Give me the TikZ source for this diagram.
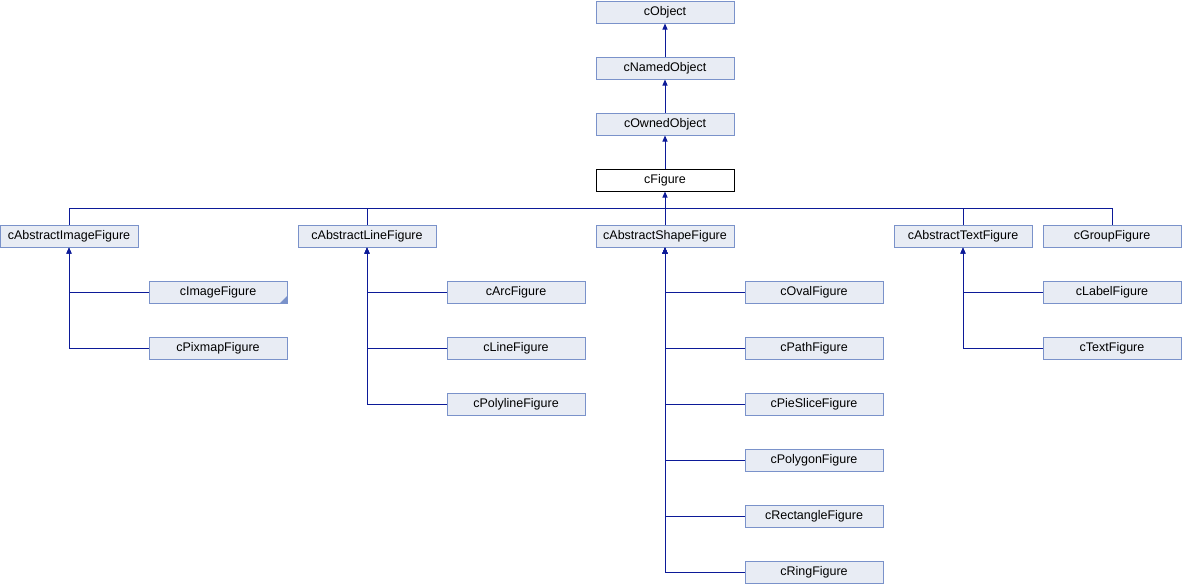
\documentclass[tikz,border=0pt]{standalone}
\usepackage{fontspec}
\setmainfont{Liberation Sans}
\usetikzlibrary{arrows.meta}
\definecolor{boxfill}{HTML}{E8ECF4}
\definecolor{boxline}{HTML}{7A92CA}
\definecolor{edgecol}{HTML}{0C1A98}
\tikzset{
  cls/.style={draw=boxline, fill=boxfill, line width=1pt, minimum width=138pt,
    minimum height=22pt, inner sep=0pt, font=\fontsize{12.5}{14}\selectfont},
  curcls/.style={cls, draw=black, fill=white},
  inh/.style={draw=edgecol, line width=1pt, -{Triangle[length=6pt,width=5pt]}},
  link/.style={draw=edgecol, line width=1pt}
}
\begin{document}
\begin{tikzpicture}[x=1pt,y=-1pt]
\useasboundingbox (0,0) rectangle (1182,584);
% base chain
\node[cls] (obj) at (665,12) {cObject};
\node[cls] (named) at (665,68) {cNamedObject};
\node[cls] (owned) at (665,124) {cOwnedObject};
\node[curcls] (fig) at (665,180) {cFigure};
% direct subclasses
\node[cls] (aimg) at (69,236) {cAbstractImageFigure};
\node[cls] (aline) at (367,236) {cAbstractLineFigure};
\node[cls] (ashape) at (665,236) {cAbstractShapeFigure};
\node[cls] (atext) at (963,236) {cAbstractTextFigure};
\node[cls] (group) at (1112,236) {cGroupFigure};
% image figures
\node[cls] (img) at (218,292) {cImageFigure};
\node[cls] (pix) at (218,348) {cPixmapFigure};
\fill[boxline] (img.south east) ++(-0.5,-0.5) -- ++(0,-7) -- ++(-7,7) -- cycle;
% line figures
\node[cls] (arc) at (516,292) {cArcFigure};
\node[cls] (line) at (516,348) {cLineFigure};
\node[cls] (poly) at (516,404) {cPolylineFigure};
% shape figures
\node[cls] (oval) at (814,292) {cOvalFigure};
\node[cls] (path) at (814,348) {cPathFigure};
\node[cls] (pie) at (814,404) {cPieSliceFigure};
\node[cls] (polygon) at (814,460) {cPolygonFigure};
\node[cls] (rect) at (814,516) {cRectangleFigure};
\node[cls] (ring) at (814,572) {cRingFigure};
% text figures
\node[cls] (label) at (1112,292) {cLabelFigure};
\node[cls] (text) at (1112,348) {cTextFigure};
% inheritance edges
\draw[inh] (named.north) -- (obj.south);
\draw[inh] (owned.north) -- (named.south);
\draw[inh] (fig.north) -- (owned.south);
\coordinate (bus) at (665,208);
\draw[inh] (bus) -- (fig.south);
\foreach \c in {aimg,aline,ashape,atext,group}
  \draw[link] (\c.north) |- (bus);
\foreach \c in {img,pix}
  \draw[inh] (\c.west) -| (aimg.south);
\foreach \c in {arc,line,poly}
  \draw[inh] (\c.west) -| (aline.south);
\foreach \c in {oval,path,pie,polygon,rect,ring}
  \draw[inh] (\c.west) -| (ashape.south);
\foreach \c in {label,text}
  \draw[inh] (\c.west) -| (atext.south);
\end{tikzpicture}
\end{document}
